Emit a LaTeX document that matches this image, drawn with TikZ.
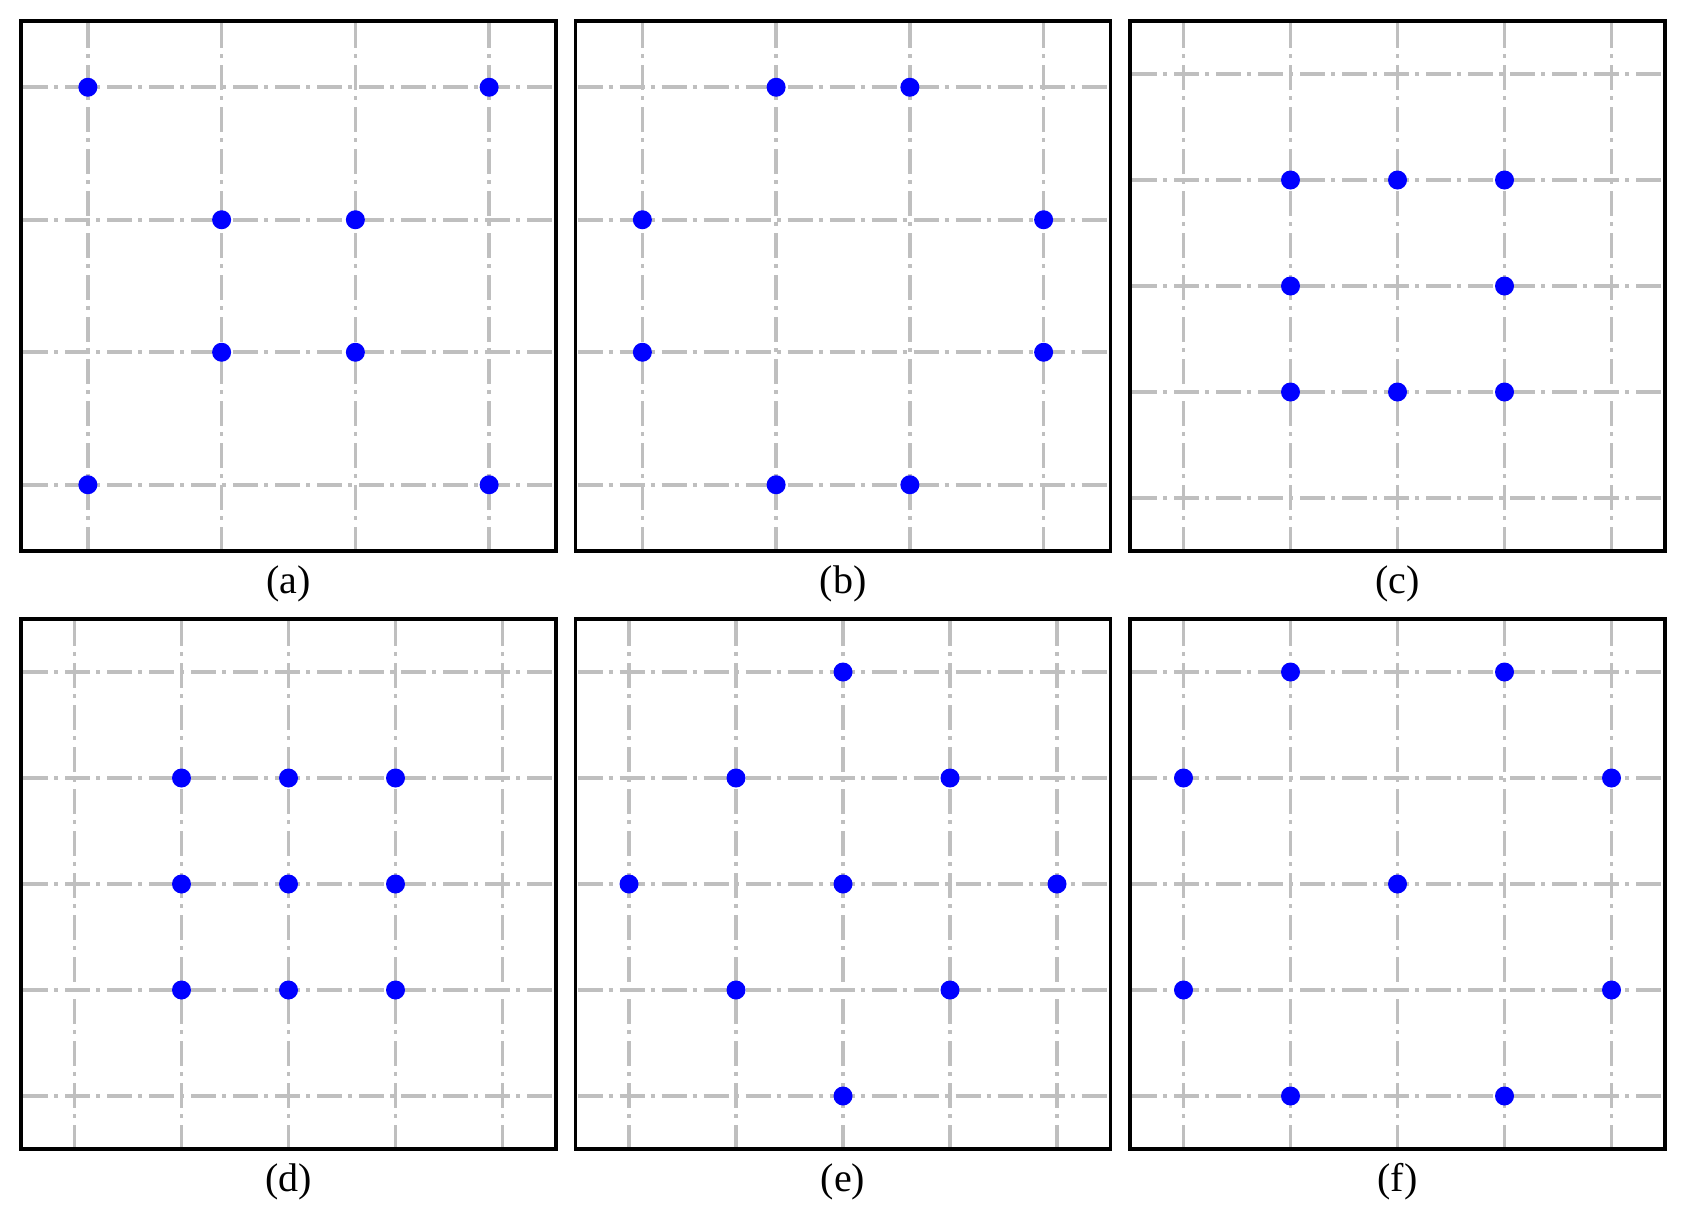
\documentclass[tikz,border=0pt]{standalone}
\usepackage{fontspec}
\setmainfont{Liberation Serif}
\newcommand\drawpanel[6]{% #1 x0, #2 y0, #3 n, #4 dots, #5 label, #6 name
 \begin{scope}[shift={(#1,#2)}]
  \pgfmathsetmacro\sx{535/#3}
  \pgfmathsetmacro\sy{530/#3}
  \foreach \i in {1,...,#3}{
    \draw[gridline] ({(\i-0.5)*\sx},2) -- ({(\i-0.5)*\sx},528);
    \draw[gridline] (2,{(\i-0.5)*\sy}) -- (533,{(\i-0.5)*\sy});
  }
  \foreach \cc/\rr in {#4}{\fill[dotpt] ({(\cc+0.5)*\sx},{(\rr+0.5)*\sy}) circle[radius=9.5pt];}
  \draw[frame] (0,0) rectangle (535,530);
  \node[caption] (#6) at (267.5,563) {#5};
 \end{scope}}
\begin{document}
\begin{tikzpicture}[x=1pt,y=-1pt,
  gridline/.style={draw={rgb,255:red,191;green,191;blue,191}, line width=3.6pt, dash pattern=on 25pt off 6pt on 4pt off 7pt},
  frame/.style={draw=black, line width=3.5pt},
  dotpt/.style={fill=blue},
  caption/.style={font=\fontsize{40}{44}\selectfont, inner sep=0pt}]
\useasboundingbox (0,0) rectangle (1687,1227);
\drawpanel{21}{21}{4}{0/0,3/0,1/1,2/1,1/2,2/2,0/3,3/3}{(a)}{capa}
\drawpanel{575.5}{21}{4}{1/0,2/0,0/1,3/1,0/2,3/2,1/3,2/3}{(b)}{capb}
\drawpanel{1130}{21}{5}{1/1,2/1,3/1,1/2,3/2,1/3,2/3,3/3}{(c)}{capc}
\drawpanel{21}{619}{5}{1/1,2/1,3/1,1/2,2/2,3/2,1/3,2/3,3/3}{(d)}{capd}
\drawpanel{575.5}{619}{5}{2/0,1/1,3/1,0/2,2/2,4/2,1/3,3/3,2/4}{(e)}{cape}
\drawpanel{1130}{619}{5}{1/0,3/0,0/1,4/1,2/2,0/3,4/3,1/4,3/4}{(f)}{capf}
\end{tikzpicture}
\end{document}
